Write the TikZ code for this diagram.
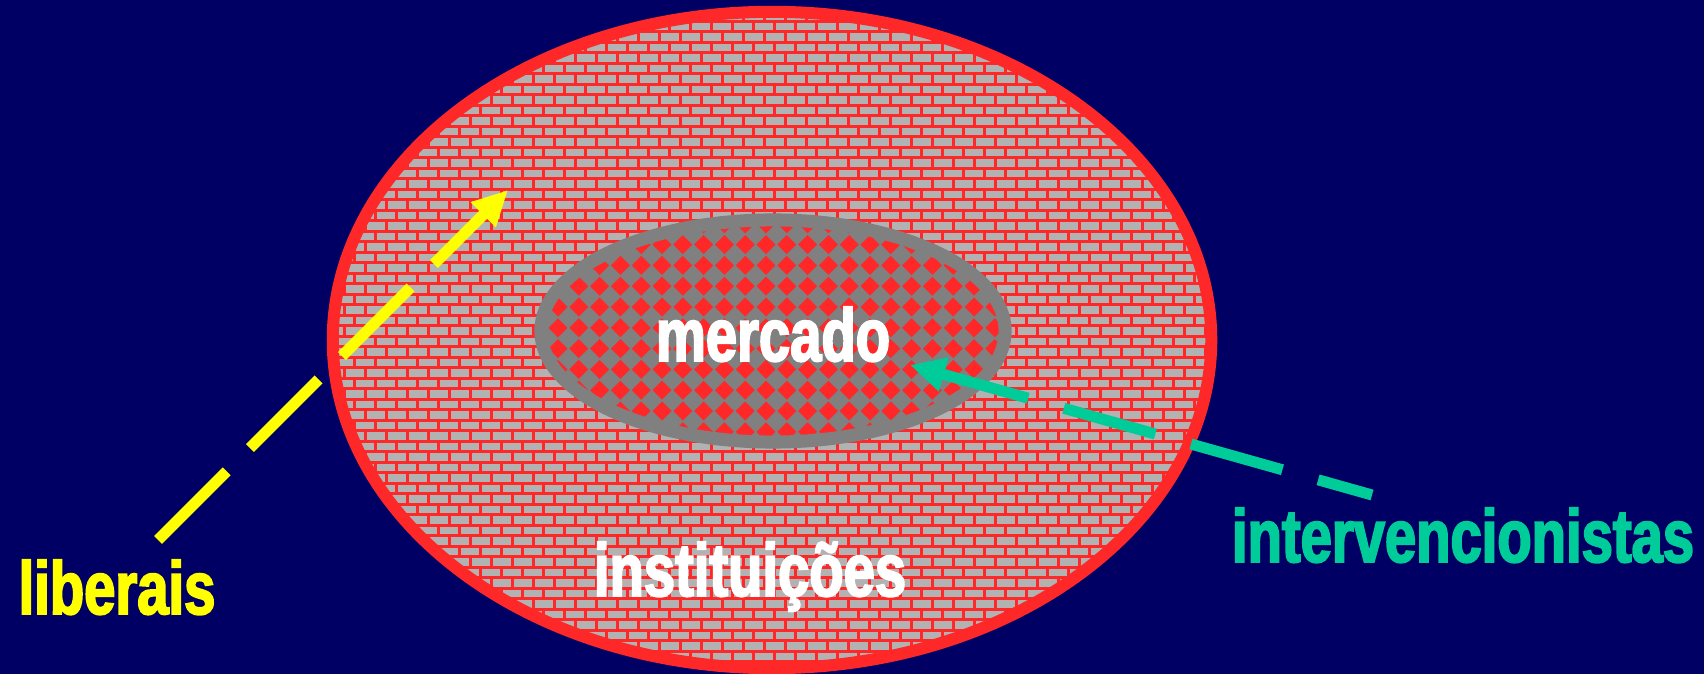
\documentclass[tikz,border=0pt]{standalone}
\usepackage{fontspec}
\usepackage{xcolor}
\usepackage{tikz}
\usetikzlibrary{arrows.meta}
\newfontfamily\impactfont[FakeStretch=0.75,FakeBold=2.5]{Liberation Sans}
\definecolor{navy}{RGB}{0,0,100}
\definecolor{brickred}{RGB}{255,40,40}
\definecolor{brickgray}{RGB}{178,178,178}
\definecolor{marketgray}{RGB}{128,128,128}
\definecolor{libyellow}{RGB}{255,255,0}
\definecolor{intgreen}{RGB}{0,204,153}

\begin{document}
\begin{tikzpicture}[x=0.01cm, y=-0.01cm,
    label text/.style={font=\impactfont\bfseries\fontsize{21.3}{24}\selectfont, inner sep=0pt, anchor=base},
    dash arrow/.style={line width=0.11cm, -{Triangle[length=0.35cm, width=0.33cm]}}]
            % Background
            \fill[navy] (0,0) rectangle (1704,674);
            \useasboundingbox (0,0) rectangle (1704,674);
            % Brick wall of the institutions
            \begin{scope}
                \clip (772,340) ellipse [x radius=4.39cm, y radius=3.28cm];
                \fill[brickred] (300,0) rectangle (1250,680);
                \foreach \j in {0,...,64} {
                    \pgfmathsetmacro\rowy{2+\j*10.5}
                    \pgfmathsetmacro\rowx{293+mod(\j,2)*10.5}
                    \foreach \i in {0,...,44}
                        \fill[brickgray] ({\rowx+\i*21},\rowy) rectangle ++(18,7.3);
                }
            \end{scope}
            \draw[brickred, line width=0.12cm] (772,340) ellipse [x radius=4.39cm, y radius=3.28cm];
            % Market with diamonds
            \begin{scope}
                \clip (773,331) ellipse [x radius=2.32cm, y radius=1.11cm];
                \fill[marketgray] (500,200) rectangle (1050,460);
                \foreach \j in {-5,...,7}
                    \foreach \i in {-2,...,22}
                        \fill[brickred] ({558+\i*20.8},{307+\j*20.8}) ++(-9.5,0) -- ++(9.5,-9.5) -- ++(9.5,9.5) -- ++(-9.5,9.5) -- cycle;
            \end{scope}
            \draw[marketgray, line width=0.13cm] (773,331) ellipse [x radius=2.32cm, y radius=1.11cm];
            % Labels
            \node[label text, white] (mercado) at (773,361) {mercado};
            \node[label text, white] (instituicoes) at (750,596) {instituições};
            \node[label text, libyellow] (liberais) at (117,614) {liberais};
            \node[label text, intgreen] (intervencionistas) at (1463,562) {intervencionistas};
            % Arrows of both schools
            \coordinate (libstart) at (158,540);
            \coordinate (libtip) at (508,190);
            \draw[dash arrow, libyellow, dash pattern=on 0.97cm off 0.33cm] (libstart) -- (libtip);
            \coordinate (intstart) at (1372,495);
            \coordinate (inttip) at (910,365);
            \draw[dash arrow, intgreen, dash pattern=on 0.95cm off 0.37cm, dash phase=0.39cm] (intstart) -- (inttip);
        \end{tikzpicture}
\end{document}
